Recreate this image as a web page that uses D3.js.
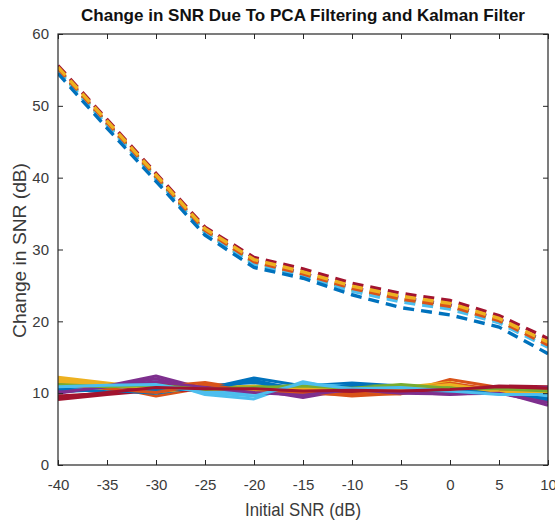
<!DOCTYPE html>
<html>
<head>
<meta charset="utf-8">
<script src="https://cdn.jsdelivr.net/npm/d3@7"></script>
<style>
  body { margin: 0; background: #fff; }
  svg { display: block; font-family: 'Liberation Sans', Arial, sans-serif; }
</style>
</head>
<body>
<div id="chart"></div>
<script>
// initial SNR (dB) for every point
const snr = [-40, -35, -30, -25, -20, -15, -10, -5, 0, 5, 10];

const xTicks = [-40, -35, -30, -25, -20, -15, -10, -5, 0, 5, 10];
const yTicks = [0, 10, 20, 30, 40, 50, 60];

// matlab default colour order
const colorOrder = ['#0072BD', '#D95319', '#EDB120', '#7E2F8E', '#77AC30', '#4DBEEE', '#A2142F'];

// PCA filtering (dashed), colour order picks up at purple
const pcaColorStart = 3;
const pcaRuns = [
  [55.1, 47.6, 40.1, 32.6, 28.4, 26.7, 24.7, 23.3, 22.3, 20.3, 17.0],
  [55.0, 47.5, 40.0, 32.5, 28.1, 26.5, 24.4, 23.0, 22.0, 20.0, 16.8],
  [54.8, 47.3, 39.8, 32.3, 27.9, 26.3, 24.2, 22.7, 21.7, 19.8, 16.4],
  [55.6, 48.1, 40.6, 33.1, 28.9, 27.3, 25.3, 23.9, 22.9, 20.8, 17.6],
  [54.5, 46.9, 39.5, 32.0, 27.5, 26.0, 23.7, 21.9, 20.9, 19.2, 15.5],
  [55.2, 47.7, 40.2, 32.7, 28.3, 26.6, 24.6, 23.1, 22.1, 20.1, 16.7],
  [55.4, 47.9, 40.4, 32.9, 28.6, 26.9, 24.9, 23.5, 22.5, 20.4, 17.1],
];

// kalman filter (solid)
const kalmanRuns = [
  [10.2, 10.5, 10.8, 10.6, 12.1, 11.0, 11.4, 11.0, 10.6, 10.3, 8.9],
  [11.8, 11.0, 9.6, 10.8, 10.5, 10.2, 9.6, 10.0, 11.9, 10.8, 10.2],
  [12.2, 11.4, 10.6, 10.9, 10.8, 10.9, 10.6, 10.8, 11.5, 10.0, 10.2],
  [10.0, 11.0, 12.4, 10.6, 10.5, 9.4, 10.6, 10.2, 9.8, 10.2, 8.3],
  [11.0, 10.8, 10.9, 10.7, 11.0, 10.9, 11.0, 11.0, 10.5, 10.4, 10.5],
  [10.5, 10.8, 11.9, 9.8, 9.2, 11.6, 10.3, 11.0, 10.5, 9.9, 9.3],
  [9.1, 9.8, 10.4, 10.4, 10.8, 10.5, 10.2, 10.5, 10.4, 11.0, 10.9],
  [10.4, 10.4, 10.0, 11.0, 11.5, 10.6, 11.2, 10.6, 10.9, 10.2, 9.5],
  [11.5, 11.2, 10.9, 11.5, 10.4, 10.8, 10.0, 9.9, 11.0, 10.6, 10.6],
  [11.9, 11.2, 10.2, 10.8, 10.9, 10.4, 10.9, 10.5, 10.9, 10.5, 10.0],
  [10.3, 11.0, 12.0, 10.4, 10.6, 9.9, 10.2, 10.4, 10.0, 10.4, 10.8],
  [10.8, 10.6, 10.6, 11.0, 10.6, 11.2, 10.8, 10.9, 10.8, 10.3, 10.0],
  [10.7, 10.5, 11.5, 10.2, 10.0, 11.3, 10.9, 10.6, 10.2, 10.0, 9.6],
  [9.6, 10.0, 11.2, 10.9, 10.3, 10.6, 10.0, 10.2, 10.6, 10.8, 10.6],
  [10.6, 10.2, 10.5, 10.5, 11.8, 10.3, 11.1, 10.7, 10.3, 10.1, 9.2],
  [11.3, 10.6, 10.1, 11.2, 10.2, 10.0, 9.8, 10.3, 11.4, 10.4, 10.4],
  [11.6, 11.0, 10.8, 10.6, 10.4, 10.7, 10.4, 10.6, 11.2, 10.2, 10.1],
  [10.1, 10.9, 11.6, 10.8, 10.1, 9.7, 10.5, 10.0, 9.9, 10.0, 8.7],
  [11.2, 10.9, 11.1, 10.5, 10.8, 11.0, 10.7, 11.2, 10.7, 10.6, 10.3],
  [10.9, 11.1, 11.2, 10.1, 9.6, 11.4, 10.6, 10.8, 10.3, 9.8, 9.8],
  [9.4, 10.1, 10.8, 10.6, 10.6, 10.3, 10.4, 10.3, 10.5, 10.9, 10.7],
];

const size = { width: 555, height: 520 };
const margin = { left: 58, top: 34, right: 7, bottom: 55 };
const axisColor = '#262626';

const svg = d3
  .select('#chart')
  .append('svg')
  .attr('width', size.width)
  .attr('height', size.height);

const x = d3
  .scaleLinear()
  .domain([-40, 10])
  .range([margin.left, size.width - margin.right]);

const y = d3
  .scaleLinear()
  .domain([0, 60])
  .range([size.height - margin.bottom, margin.top]);

const line = d3
  .line()
  .x((d, i) => x(snr[i]))
  .y((d) => y(d));

svg
  .append('clipPath')
  .attr('id', 'plot-area')
  .append('rect')
  .attr('x', margin.left)
  .attr('y', margin.top)
  .attr('width', x(10) - x(-40))
  .attr('height', y(0) - y(60));

const lines = svg.append('g').attr('clip-path', 'url(#plot-area)');

lines
  .selectAll('.kalman')
  .data(kalmanRuns)
  .join('path')
  .attr('class', 'kalman')
  .attr('d', line)
  .attr('fill', 'none')
  .attr('stroke', (d, i) => colorOrder[i % colorOrder.length])
  .attr('stroke-width', 3)
  .attr('stroke-linejoin', 'round');

lines
  .selectAll('.pca')
  .data(pcaRuns)
  .join('path')
  .attr('class', 'pca')
  .attr('d', line)
  .attr('fill', 'none')
  .attr('stroke', (d, i) => colorOrder[(i + pcaColorStart) % colorOrder.length])
  .attr('stroke-width', 3.4)
  .attr('stroke-dasharray', '11,7');

// axes, ticks pointing inward like matlab
const styleAxis = (g) => {
  g.select('.domain').remove();
  g.selectAll('.tick line').attr('stroke', axisColor);
  g.selectAll('.tick text')
    .attr('fill', '#3a3a3a')
    .style('font-size', '15px')
    .style('font-family', "'Liberation Sans', Arial, sans-serif");
};

const plain = (d) => String(d);

svg
  .append('g')
  .attr('transform', `translate(0, ${y(0)})`)
  .call(d3.axisBottom(x).tickValues(xTicks).tickFormat(plain).tickSizeInner(-5).tickSizeOuter(0).tickPadding(14))
  .call(styleAxis);

svg
  .append('g')
  .attr('transform', `translate(0, ${y(60)})`)
  .call(d3.axisTop(x).tickValues(xTicks).tickSizeInner(-5).tickSizeOuter(0).tickFormat(''))
  .call(styleAxis);

svg
  .append('g')
  .attr('transform', `translate(${x(-40)}, 0)`)
  .call(d3.axisLeft(y).tickValues(yTicks).tickFormat(plain).tickSizeInner(-5).tickSizeOuter(0).tickPadding(9))
  .call(styleAxis);

svg
  .append('g')
  .attr('transform', `translate(${x(10)}, 0)`)
  .call(d3.axisRight(y).tickValues(yTicks).tickSizeInner(-5).tickSizeOuter(0).tickFormat(''))
  .call(styleAxis);

svg
  .append('rect')
  .attr('x', x(-40))
  .attr('y', y(60))
  .attr('width', x(10) - x(-40))
  .attr('height', y(0) - y(60))
  .attr('fill', 'none')
  .attr('stroke', axisColor)
  .attr('stroke-width', 1.2);

svg
  .append('text')
  .attr('x', (x(-40) + x(10)) / 2)
  .attr('y', 21)
  .attr('text-anchor', 'middle')
  .attr('textLength', 444)
  .attr('lengthAdjust', 'spacingAndGlyphs')
  .style('font-size', '17px')
  .style('font-weight', 'bold')
  .attr('fill', '#111')
  .text('Change in SNR Due To PCA Filtering and Kalman Filter');

svg
  .append('text')
  .attr('x', (x(-40) + x(10)) / 2)
  .attr('y', 516)
  .attr('text-anchor', 'middle')
  .attr('textLength', 116)
  .attr('lengthAdjust', 'spacingAndGlyphs')
  .style('font-size', '19px')
  .attr('fill', '#3a3a3a')
  .text('Initial SNR (dB)');

svg
  .append('text')
  .attr('transform', `translate(26, ${(y(0) + y(60)) / 2 + 1}) rotate(-90)`)
  .attr('text-anchor', 'middle')
  .attr('textLength', 175)
  .attr('lengthAdjust', 'spacingAndGlyphs')
  .style('font-size', '18px')
  .attr('fill', '#3a3a3a')
  .text('Change in SNR (dB)');
</script>
</body>
</html>
